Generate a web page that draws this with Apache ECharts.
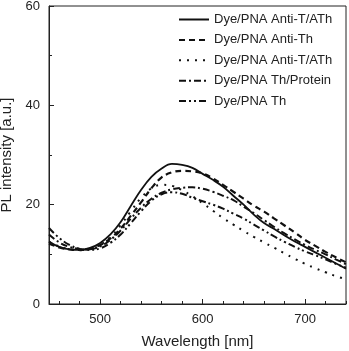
<!DOCTYPE html>
<html><head><meta charset="utf-8">
<script src="https://cdn.jsdelivr.net/npm/echarts@6/dist/echarts.min.js"></script>
<style>html,body{margin:0;padding:0;background:#fff}#c{width:349px;height:351px}</style>
</head><body><div id="c"></div>
<script>
const wavelengths = [450,460,470,480,490,500,510,520,530,540,550,560,570,580,590,600,610,620,630,640,650,660,670,680,690,700,710,720,730,740];
const seriesNames = ['Dye/PNA Anti-T/ATh','Dye/PNA Anti-Th','Dye/PNA Anti-T/ATh ','Dye/PNA Th/Protein','Dye/PNA Th'];
const antiTATh = [12.6,11.5,11.0,10.9,11.3,12.3,14.0,16.5,19.8,23.0,25.6,27.3,28.2,28.0,27.4,26.2,25.0,23.6,21.8,20.0,18.0,16.3,15.1,13.8,12.6,11.5,10.4,9.3,8.2,7.1];
const antiTh = [12.2,11.4,11.0,10.9,11.1,11.9,13.2,15.2,17.8,20.5,23.3,25.5,26.5,26.8,26.7,26.3,25.3,24.0,22.6,21.2,19.8,18.6,17.2,15.8,14.4,12.9,11.7,10.5,9.4,8.4];
const antiTATh2 = [12.5,11.6,11.0,10.8,11.0,11.9,13.5,15.9,18.7,21.4,23.3,24.0,23.8,22.9,21.7,20.3,18.8,17.3,16.0,14.7,13.5,12.4,11.3,10.2,9.1,8.1,7.2,6.4,5.6,5.0];
const thProtein = [14.0,12.4,11.5,11.1,11.0,11.6,12.9,14.8,17.2,19.4,21.2,22.4,23.1,23.4,23.5,23.2,22.6,21.8,20.9,19.6,18.3,16.9,15.5,14.2,13.0,11.9,10.9,10.0,9.0,8.0];
const th = [15.3,13.3,11.9,11.1,10.9,11.2,12.3,14.0,16.3,18.7,20.8,22.1,22.5,22.2,21.4,20.7,20.0,19.2,18.2,17.2,16.0,14.8,13.6,12.5,11.5,10.6,9.8,9.0,8.1,7.3];
const xMajorTicks = [500,600,700];
const xMinorTicks = [460,480,520,540,560,580,620,640,660,680,720,740];

const dashes = ['solid',[6,4],[2,6],[7,3,2,3],[7,3,2,3,2,3]];
const widths = [1.8,2.2,2.0,2.0,2.0];
const allData = [antiTATh, antiTh, antiTATh2, thProtein, th];
const font = 'Liberation Sans, Arial, sans-serif';

const chart = echarts.init(document.getElementById('c'));
chart.setOption({
  animation:false,
  grid:{left:49,right:3,top:6,bottom:47,outerBoundsMode:'none',containLabel:false,show:true,borderColor:'#222',borderWidth:1,backgroundColor:'transparent'},
  legend:{
    orient:'vertical',left:178,top:13,padding:0,itemWidth:30,itemHeight:12,itemGap:7.4,
    itemStyle:{color:'transparent',borderWidth:0,opacity:0},
    textStyle:{fontFamily:font,fontSize:13,color:'#222'},
    data:seriesNames
  },
  xAxis:[{
    type:'value',min:450,max:740,
    name:'Wavelength [nm]',nameLocation:'middle',nameGap:30,
    nameTextStyle:{fontFamily:font,fontSize:15,color:'#222'},
    axisLine:{show:true,onZero:false,lineStyle:{color:'#222',width:1}},
    axisTick:{show:true,inside:true,length:5,customValues:xMajorTicks,lineStyle:{color:'#222'}},
    axisLabel:{customValues:xMajorTicks,fontFamily:font,fontSize:13,color:'#222',margin:9},
    splitLine:{show:false}
  },{
    type:'value',min:450,max:740,position:'bottom',
    axisLine:{show:false},
    axisTick:{show:true,inside:true,length:3,customValues:xMinorTicks,lineStyle:{color:'#222'}},
    axisLabel:{show:false},splitLine:{show:false}
  }],
  yAxis:{
    type:'value',min:0,max:60,interval:20,
    name:'PL intensity [a.u.]',nameLocation:'middle',nameGap:33,nameRotate:90,
    nameTextStyle:{fontFamily:font,fontSize:15,color:'#222'},
    axisLine:{show:true,lineStyle:{color:'#222',width:1}},
    axisTick:{show:true,inside:true,length:5,lineStyle:{color:'#222'}},
    minorTick:{show:true,splitNumber:2,length:3,lineStyle:{color:'#222'}},
    axisLabel:{fontFamily:font,fontSize:13,color:'#222',margin:9},
    splitLine:{show:false}
  },
  series: allData.map((d,i)=>({
    name:seriesNames[i],type:'line',xAxisIndex:0,
    data:wavelengths.map((w,j)=>[w,d[j]]),
    smooth:0.4,symbol:'none',
    itemStyle:{color:'#111'},
    lineStyle:{color:'#111',width:widths[i],type:dashes[i]}
  }))
});
</script></body></html>
